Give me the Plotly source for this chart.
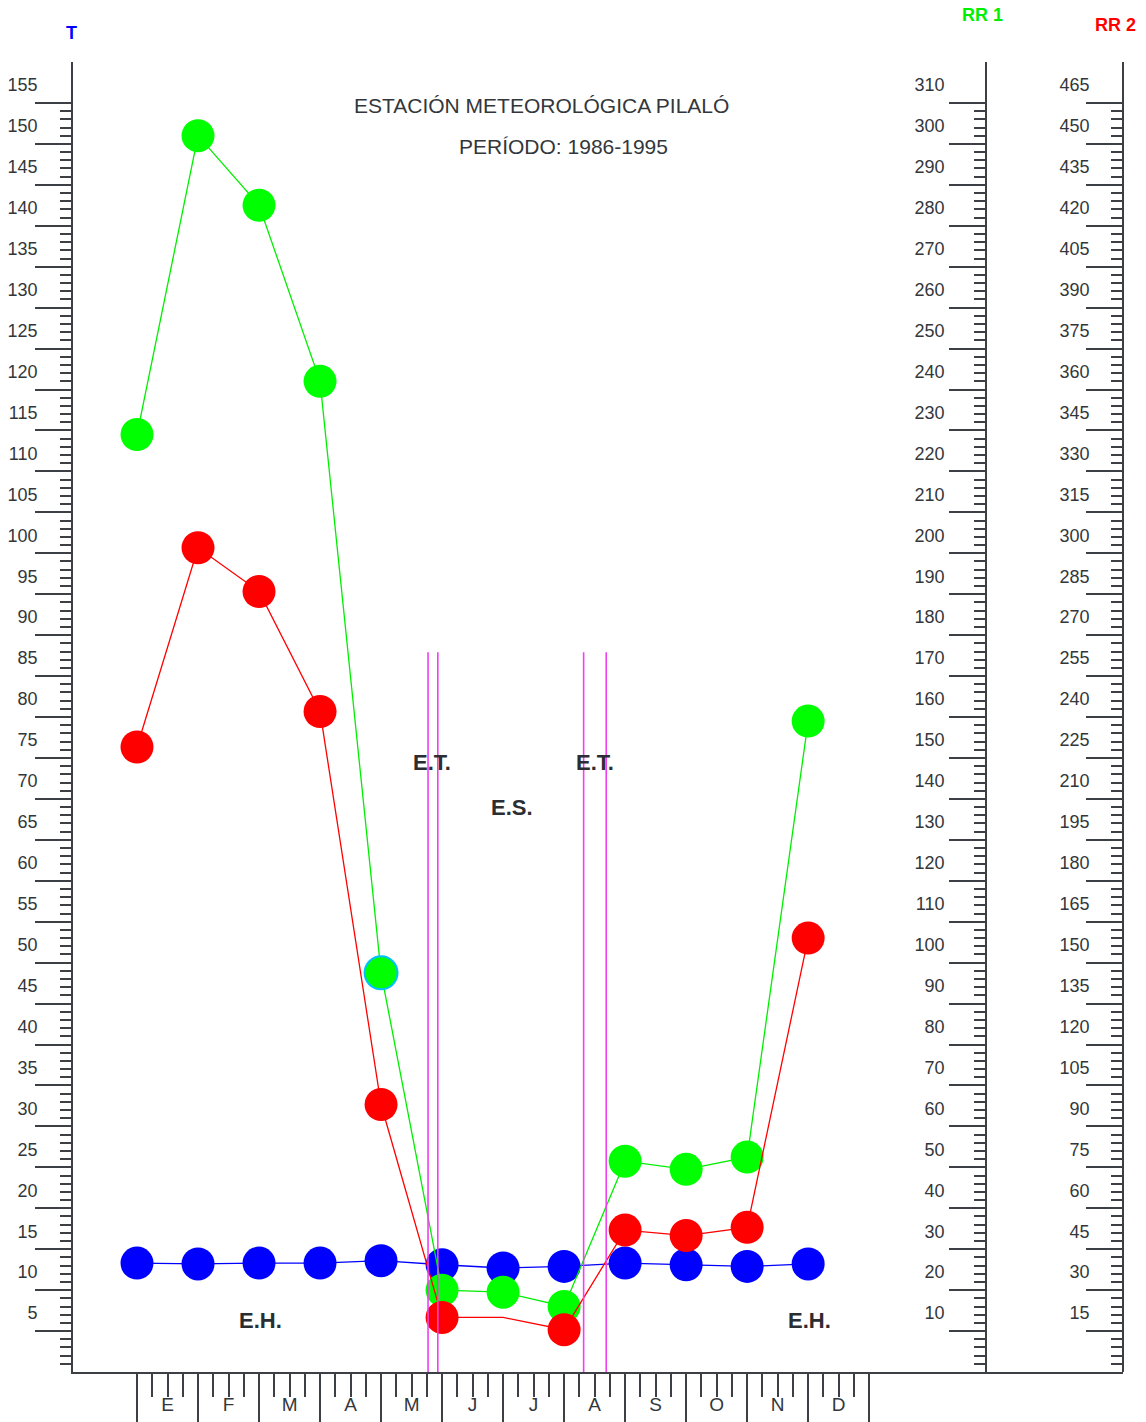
import plotly.graph_objects as go

# Monthly climatology, Pilaló station (1986-1995)
months = ["E", "F", "M", "A", "M", "J", "J", "A", "S", "O", "N", "D"]
month_pos = list(range(1, 13))
temperature = [13.3, 13.2, 13.3, 13.3, 13.6, 13.1, 12.7, 12.9, 13.3, 13.1, 12.9, 13.2]
rain_rr1 = [229, 302, 285, 242, 97.5, 20, 19.5, 16, 51.5, 49.5, 52.5, 159]
rain_rr2 = [229, 302, 286, 242, 98, 20, 20, 15.5, 52, 50, 53, 159]

# season boundaries (transition periods) along the month axis
season_bounds = [5.77, 5.93, 8.32, 8.69]

# tick labels on the three vertical scales
t_ticks = list(range(5, 160, 5))
rr1_ticks = list(range(10, 320, 10))
rr2_ticks = list(range(15, 480, 15))

FONT = "Liberation Sans, Arial, sans-serif"
AX = "#3c4045"
TXT = "#33373b"
MSIZE = 33

fig = go.Figure()

fig.add_trace(go.Scatter(
    x=month_pos, y=rain_rr1, yaxis="y2", mode="lines+markers",
    line=dict(color="#00ee00", width=1.3),
    marker=dict(size=MSIZE, color="#00ff00", opacity=1,
                line=dict(color=["#00ee00"] * 4 + ["#00c0ff"] + ["#00ee00"] * 7,
                          width=[0] * 4 + [2] + [0] * 7)),
    showlegend=False, hoverinfo="skip"))

red_sizes = [MSIZE] * 12
red_sizes[6] = 0
fig.add_trace(go.Scatter(
    x=month_pos, y=rain_rr2, yaxis="y3", mode="lines+markers",
    line=dict(color="#ff0000", width=1.3),
    marker=dict(size=red_sizes, color="#ff0000", opacity=1, line=dict(width=0)),
    showlegend=False, hoverinfo="skip"))

fig.add_trace(go.Scatter(
    x=month_pos, y=temperature, mode="lines+markers",
    line=dict(color="#0000ff", width=1.3),
    marker=dict(size=MSIZE, color="#0000ff", opacity=1, line=dict(width=0)),
    showlegend=False, hoverinfo="skip"))

# carrier for the secondary month axis (quarter ticks and labels)
fig.add_trace(go.Scatter(x=[None], y=[None], xaxis="x2", showlegend=False,
                         hoverinfo="skip"))

x_range = [-0.049, 17.16]
quarter_vals = [m + q for m in range(1, 13) for q in (0.25, 0.5, 0.75)]
quarter_text = [months[m - 1] if q == 0.5 else "" for m in range(1, 13) for q in (0.25, 0.5, 0.75)]


def vaxis(vmax, major, minor_step, standoff, position=None, overlay=False):
    d = dict(
        range=[0, vmax], tickmode="array", tickvals=major,
        ticktext=[str(v) for v in major],
        ticks="outside", ticklen=36, tickwidth=1.6, tickcolor=AX,
        minor=dict(tickmode="array",
                   tickvals=[v for v in range(minor_step, major[-1], minor_step) if v not in major],
                   ticks="outside", ticklen=11, tickwidth=1.6, tickcolor=AX),
        showline=True, linecolor=AX, linewidth=1.8, showgrid=False, zeroline=False,
        ticklabelshift=-18, ticklabelstandoff=standoff, automargin=False,
        tickfont=dict(family=FONT, size=18, color=TXT),
        side="left",
    )
    if overlay:
        d.update(overlaying="y", anchor="free", position=position)
    return d


fig.update_layout(
    width=1146, height=1422,
    margin=dict(l=73, r=23, t=62, b=50, autoexpand=False),
    paper_bgcolor="white", plot_bgcolor="white",
    xaxis=dict(range=x_range, domain=[0, 1], tickmode="array", tickvals=list(range(1, 14)),
               ticks="outside", ticklen=50, tickwidth=1.6, tickcolor=AX,
               showticklabels=False, showline=True, linecolor=AX, linewidth=1.8,
               showgrid=False, zeroline=False, automargin=False),
    xaxis2=dict(range=x_range, overlaying="x", anchor="y", side="bottom",
                tickmode="array", tickvals=quarter_vals, ticktext=quarter_text,
                ticks="outside", ticklen=24, tickwidth=1.6, tickcolor=AX,
                ticklabelstandoff=-9, automargin=False,
                tickfont=dict(family=FONT, size=19, color=TXT),
                showline=False, showgrid=False, zeroline=False),
    yaxis=vaxis(160, t_ticks, 1, -6),
    yaxis2=vaxis(320, rr1_ticks, 2, 1, position=(986 - 73) / 1050, overlay=True),
    yaxis3=vaxis(480, rr2_ticks, 3, -7, position=1.0, overlay=True),
)

for xb in season_bounds:
    fig.add_shape(type="line", xref="x", yref="y", x0=xb, x1=xb, y0=0, y1=87.9,
                  line=dict(color="#f040f0", width=1.6), layer="above")

labels = [
    ("E.T.", 5.84, 74.5), ("E.T.", 8.51, 74.5), ("E.S.", 7.15, 69.0),
    ("E.H.", 3.03, 6.3), ("E.H.", 12.02, 6.3),
]
for text, lx, ly in labels:
    fig.add_annotation(x=lx, y=ly, xref="x", yref="y", text=f"<b>{text}</b>", showarrow=False,
                       xanchor="center", yanchor="middle",
                       font=dict(family=FONT, size=22, color="#2a2e33"))

fig.add_annotation(x=(541 - 73) / 1050, y=(1372 - 106) / 1310, xref="paper", yref="paper",
                   text="ESTACIÓN METEOROLÓGICA PILALÓ", showarrow=False,
                   xanchor="center", yanchor="middle",
                   font=dict(family=FONT, size=21, color=TXT))
fig.add_annotation(x=(563 - 73) / 1050, y=(1372 - 146) / 1310, xref="paper", yref="paper",
                   text="PERÍODO: 1986-1995", showarrow=False,
                   xanchor="center", yanchor="middle",
                   font=dict(family=FONT, size=21, color=TXT))

axis_titles = [("T", 71, 33, "#0000ff"), ("RR 1", 982, 15, "#00ee00"), ("RR 2", 1115, 25, "#ff0000")]
for text, px, py, col in axis_titles:
    fig.add_annotation(x=(px - 73) / 1050, y=(1372 - py) / 1310, xref="paper", yref="paper",
                       text=f"<b>{text}</b>", showarrow=False,
                       xanchor="center", yanchor="middle",
                       font=dict(family=FONT, size=18, color=col))

fig.write_html("out.html")
